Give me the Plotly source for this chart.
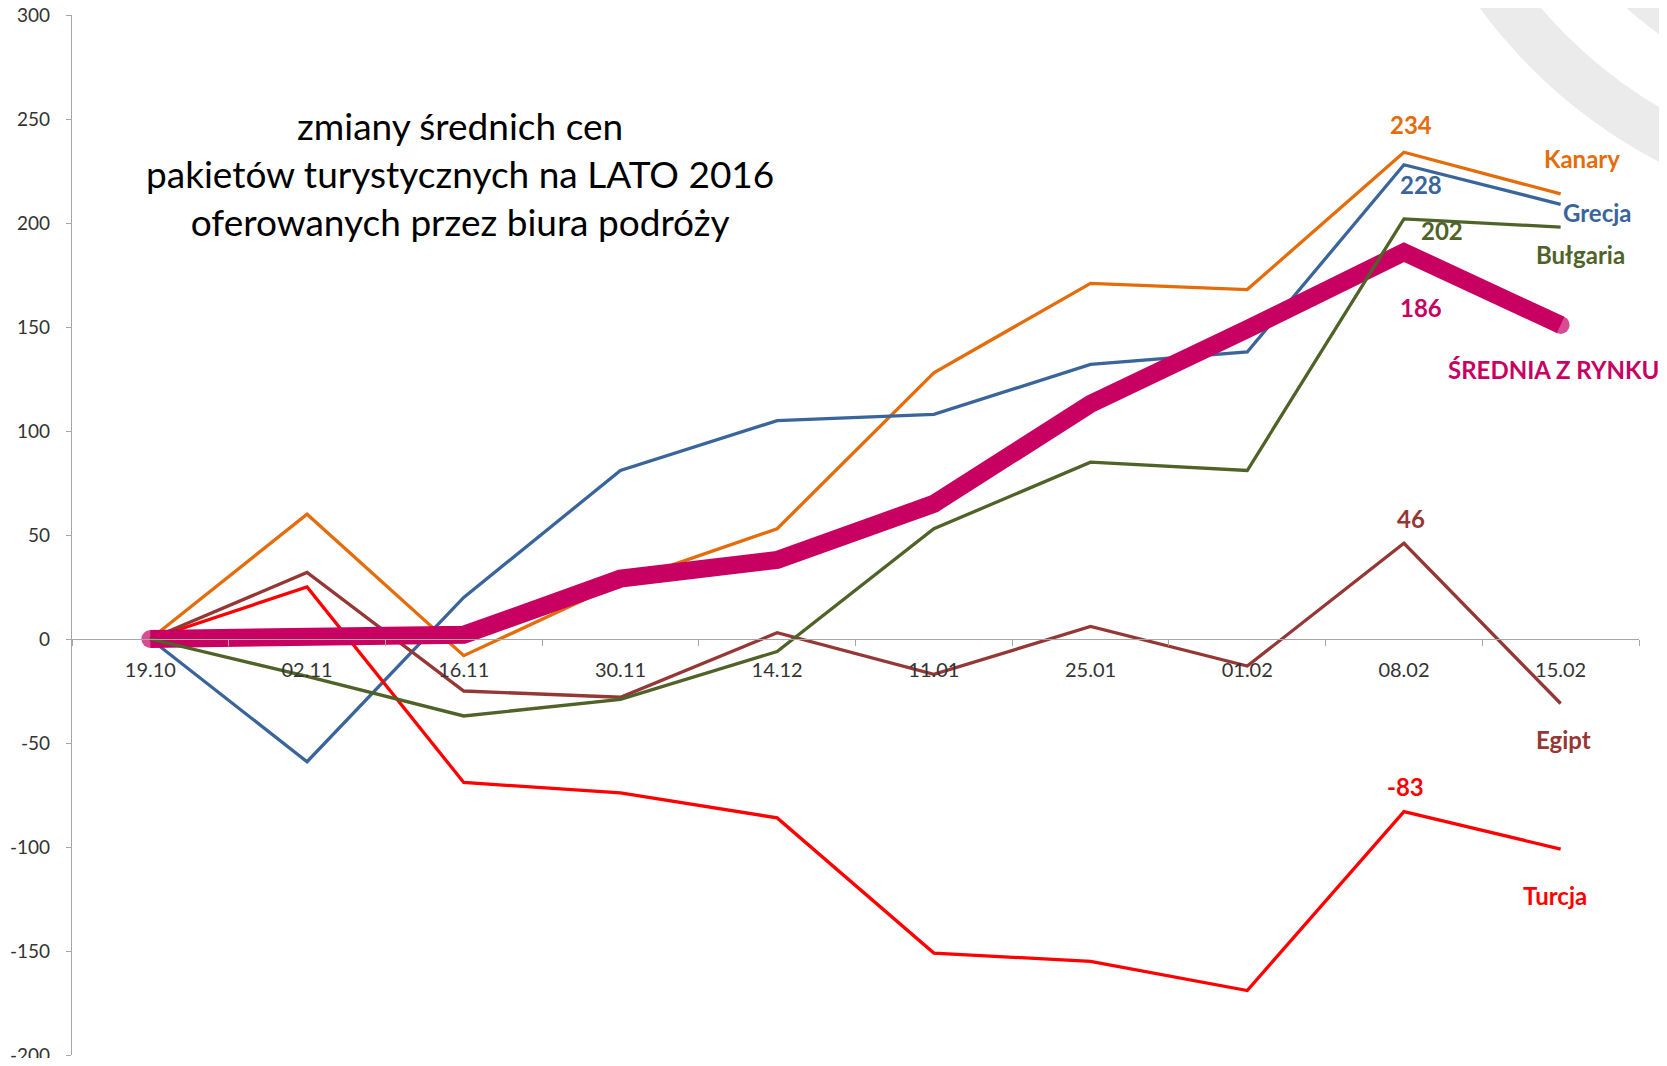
import math
import plotly.graph_objects as go

# ---- data ----
categories = ['19.10', '02.11', '16.11', '30.11', '14.12', '11.01', '25.01', '01.02', '08.02', '15.02']
kanary = [0, 60, -8, 27, 53, 128, 171, 168, 234, 214]
grecja = [0, -59, 20, 81, 105, 108, 132, 138, 228, 209]
bulgaria = [0, -18, -37, -29, -6, 53, 85, 81, 202, 198]
egipt = [0, 32, -25, -28, 3, -17, 6, -13, 46, -31]
turcja = [0, 25, -69, -74, -86, -151, -155, -169, -83, -101]
srednia = [0, 0, 2, 29, 38, 65, 113, 149, 186, 151]
y_ticks = [300, 250, 200, 150, 100, 50, 0, -50, -100, -150, -200]

title_lines = ['zmiany średnich cen', 'pakietów turystycznych na LATO 2016', 'oferowanych przez biura podróży']

C_ORANGE = '#E46C0A'
C_BLUE = '#3A659B'
C_GREEN = '#4F6228'
C_BROWN = '#953735'
C_RED = '#FF0000'
C_PINK = '#C70062'

# page body has an 8px default margin: figure is sized/placed so that the
# plot area lands on the intended window pixels
OFF = 8
WIN_W, WIN_H = 1667, 1066
PX_L, PX_R, PX_T, PX_B = 72, 1639, 15, 1055   # plot area in window pixels
W, H = WIN_W - OFF, WIN_H - 2 * OFF
L, T = PX_L - OFF, PX_T - OFF
R = W - (PX_R - OFF)
B = H - (PX_B - OFF)
FONT = 'Lato'

fig = go.Figure()

def line(y, color, width=3.3):
    fig.add_trace(go.Scatter(x=categories, y=y, mode='lines',
                             line=dict(color=color, width=width),
                             hoverinfo='skip', showlegend=False))

line(kanary, C_ORANGE)
line(grecja, C_BLUE)
line(turcja, C_RED)
line(egipt, C_BROWN)
n = len(srednia)
fig.add_trace(go.Scatter(x=categories, y=srednia, mode='lines+markers',
                         line=dict(color=C_PINK, width=18),
                         marker=dict(color=C_PINK, size=[18] + [0] * (n - 2) + [18], line=dict(width=0)),
                         hoverinfo='skip', showlegend=False))
line(bulgaria, C_GREEN)

# ---- value labels at 08.02 (index 8) ----
i8 = 8
val_labels = [
    (kanary, C_ORANGE, 7, 28),
    (grecja, C_BLUE, 17, -20),
    (bulgaria, C_GREEN, 38, -12),
    (srednia, C_PINK, 17, -55),
    (egipt, C_BROWN, 7, 25),
    (turcja, C_RED, 2, 25),
]
for ser, col, xs, ys in val_labels:
    fig.add_annotation(x=i8, y=ser[i8], text=str(ser[i8]), showarrow=False,
                       xshift=xs, yshift=ys, xanchor='center', yanchor='middle',
                       font=dict(family=FONT, size=24, color=col, weight='bold'))

# ---- series names near 15.02 (index 9) ----
i9 = 9
name_labels = [
    ('Kanary', kanary, C_ORANGE, 21, 35),
    ('Grecja', grecja, C_BLUE, 37, -8),
    ('Bułgaria', bulgaria, C_GREEN, 20, -27),
    ('ŚREDNIA Z RYNKU', srednia, C_PINK, -7, -45),
    ('Egipt', egipt, C_BROWN, 3, -36),
    ('Turcja', turcja, C_RED, -6, -46),
]
for txt, ser, col, xs, ys in name_labels:
    fig.add_annotation(x=i9, y=ser[i9], text=txt, showarrow=False,
                       xshift=xs, yshift=ys, xanchor='center', yanchor='middle',
                       font=dict(family=FONT, size=24, color=col, weight='bold'))

# ---- helpers: window pixel -> paper ----
def to_paper(px, py):
    return (px - PX_L) / (PX_R - PX_L), (PX_B - py) / (PX_B - PX_T)

# ---- title text block ----
tx, ty = to_paper(460, 173)
fig.add_annotation(xref='paper', yref='paper', x=tx, y=ty, xanchor='center', yanchor='middle',
                   text='<br>'.join(title_lines), showarrow=False, align='center',
                   font=dict(family=FONT, size=37, color='#000000'))

# ---- decorative grey rings in the top-right corner ----
def circle_path(cx, cy, r, steps=240):
    pts = []
    for k in range(steps):
        a = 2 * math.pi * k / steps
        x, y = to_paper(cx + r * math.cos(a), cy + r * math.sin(a))
        pts.append(f'{x:.5f},{y:.5f}')
    return 'M' + ' L'.join(pts) + ' Z'

cx, cy = 1900, -300
for r, col in [(521, '#EBEBEB'), (473, '#FFFFFF'), (412, '#EBEBEB'), (364, '#FFFFFF')]:
    fig.add_shape(type='path', xref='paper', yref='paper', path=circle_path(cx, cy, r),
                  fillcolor=col, line=dict(width=0), layer='below')

fig.update_layout(
    width=W, height=H,
    margin=dict(l=L, r=R, t=T, b=B, autoexpand=False),
    paper_bgcolor='white', plot_bgcolor='rgba(0,0,0,0)',
    xaxis=dict(type='category', range=[-0.5, 9.5], anchor='free', position=0.4,
               showline=True, linecolor='#A6A6A6', linewidth=1.3,
               ticks='outside', tickson='boundaries', ticklen=6, tickcolor='#A6A6A6', tickwidth=1.3,
               showgrid=False, zeroline=False, ticklabelstandoff=13,
               tickfont=dict(family=FONT, size=20, color='#333333'), automargin=False),
    yaxis=dict(range=[-200, 300], tickvals=y_ticks, ticktext=[str(v) for v in y_ticks],
               showline=True, linecolor='#A6A6A6', linewidth=1.3,
               ticks='outside', ticklen=5, tickcolor='#A6A6A6', tickwidth=1.3,
               showgrid=False, zeroline=False, ticklabelstandoff=12, ticklabeloverflow='allow',
               tickfont=dict(family=FONT, size=19, color='#333333'), automargin=False),
)

fig.write_html('out.html')
